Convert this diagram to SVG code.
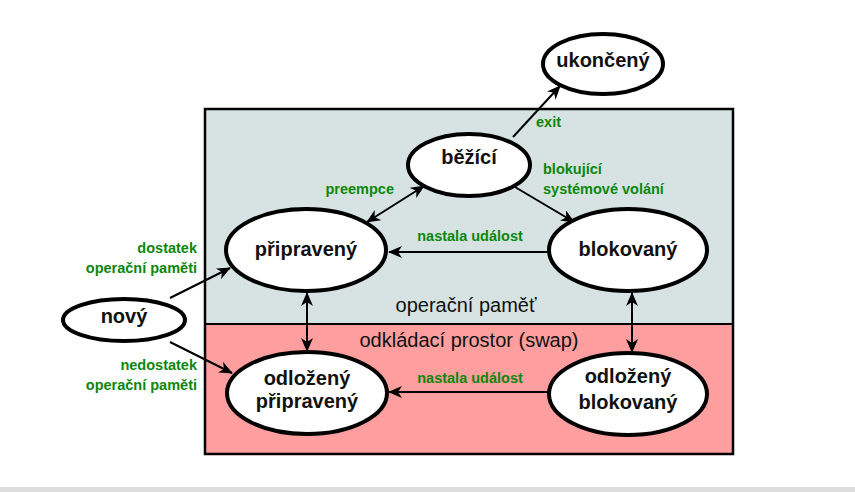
<svg xmlns="http://www.w3.org/2000/svg" width="855" height="492" viewBox="0 0 855 492">
<style>
.node{fill:#fff;stroke:#000;stroke-width:4}
.nt{font-family:"Liberation Sans",Arial,sans-serif;font-weight:bold;font-size:20px;fill:#111;text-anchor:middle}
.lbl{font-family:"Liberation Sans",Arial,sans-serif;font-weight:bold;font-size:14.5px;fill:#0b870b}
.area{font-family:"Liberation Sans",Arial,sans-serif;font-size:20px;fill:#111;text-anchor:middle}
.con{stroke:#000;stroke-width:2;fill:none}
</style>
<defs>
<marker id="ah" markerUnits="userSpaceOnUse" markerWidth="14" markerHeight="12" viewBox="0 0 14 12" refX="13" refY="6" orient="auto-start-reverse">
<path d="M0,0 L14,6 L0,12 L4,6 z" fill="#000"/>
</marker>
</defs>
<rect x="0" y="0" width="855" height="492" fill="#fff"/>
<rect x="0" y="487" width="855" height="5" fill="#dddddd"/>
<g id="areas">
<rect x="205" y="109" width="528" height="215" fill="#d6e3e2"/>
<rect x="205" y="324" width="528" height="130" fill="#ff9e9e"/>
<rect x="205" y="109" width="528" height="345" fill="none" stroke="#000" stroke-width="2.5"/>
<line x1="205" y1="324" x2="733" y2="324" stroke="#000" stroke-width="2"/>
<text class="area" x="466" y="312">operační paměť</text>
<text class="area" x="469" y="347">odkládací prostor (swap)</text>
</g>
<g id="connectors">
<line class="con" x1="513" y1="137" x2="560" y2="86" marker-end="url(#ah)"/>
<line class="con" x1="367" y1="222" x2="424" y2="186" marker-start="url(#ah)" marker-end="url(#ah)"/>
<line class="con" x1="515" y1="187" x2="574" y2="222" marker-end="url(#ah)"/>
<line class="con" x1="548" y1="252" x2="389" y2="252" marker-end="url(#ah)"/>
<line class="con" x1="307" y1="293" x2="307" y2="351" marker-start="url(#ah)" marker-end="url(#ah)"/>
<line class="con" x1="632" y1="293" x2="632" y2="352" marker-start="url(#ah)" marker-end="url(#ah)"/>
<line class="con" x1="170" y1="298" x2="230" y2="268" marker-end="url(#ah)"/>
<line class="con" x1="170" y1="342" x2="232" y2="373" marker-end="url(#ah)"/>
<line class="con" x1="548" y1="392" x2="389" y2="392" marker-end="url(#ah)"/>
<text class="lbl" x="536" y="127">exit</text>
<text class="lbl" x="543" y="174">blokující</text>
<text class="lbl" x="543" y="194">systémové volání</text>
<text class="lbl" x="394" y="194" text-anchor="end">preempce</text>
<text class="lbl" x="470" y="241" text-anchor="middle">nastala událost</text>
<text class="lbl" x="470" y="383" text-anchor="middle">nastala událost</text>
<text class="lbl" x="197" y="253" text-anchor="end">dostatek</text>
<text class="lbl" x="197" y="273" text-anchor="end">operační paměti</text>
<text class="lbl" x="197" y="370" text-anchor="end">nedostatek</text>
<text class="lbl" x="197" y="390" text-anchor="end">operační paměti</text>
</g>
<g id="ukonceny">
<ellipse class="node" cx="603" cy="64" rx="60" ry="30"/>
<text class="nt" x="603" y="67">ukončený</text>
</g>
<g id="bezici">
<ellipse class="node" cx="469" cy="165" rx="61" ry="31"/>
<text class="nt" x="469" y="164">běžící</text>
</g>
<g id="pripraveny">
<ellipse class="node" cx="306" cy="250" rx="80" ry="41"/>
<text class="nt" x="306" y="256">připravený</text>
</g>
<g id="blokovany">
<ellipse class="node" cx="628" cy="250" rx="79" ry="41"/>
<text class="nt" x="628" y="256">blokovaný</text>
</g>
<g id="novy">
<ellipse class="node" cx="124" cy="320" rx="61" ry="21"/>
<text class="nt" x="124" y="323">nový</text>
</g>
<g id="odlozeny-pripraveny">
<ellipse class="node" cx="307" cy="393" rx="80" ry="41"/>
<text class="nt" x="307" y="385">odložený</text>
<text class="nt" x="307" y="408">připravený</text>
</g>
<g id="odlozeny-blokovany">
<ellipse class="node" cx="628" cy="394" rx="79" ry="41"/>
<text class="nt" x="628" y="383">odložený</text>
<text class="nt" x="628" y="409">blokovaný</text>
</g>
</svg>
